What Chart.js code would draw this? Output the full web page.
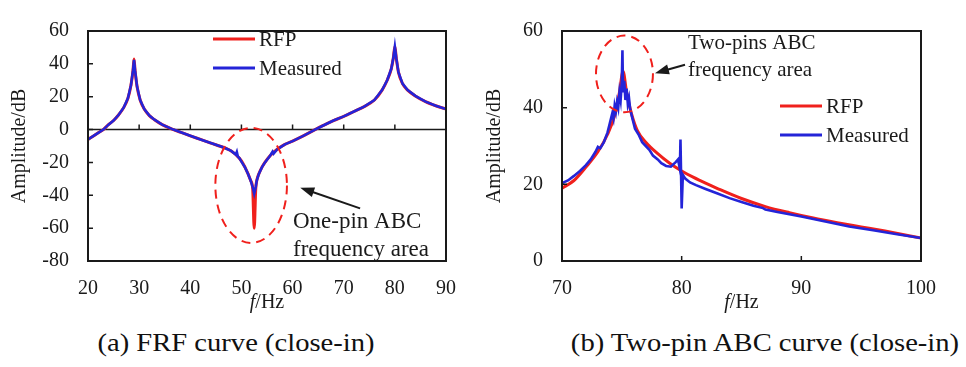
<!DOCTYPE html>
<html>
<head>
<meta charset="utf-8">
<script src="https://cdn.jsdelivr.net/npm/chart.js@4.4.0/dist/chart.umd.min.js"></script>
<style>
  body {
    margin: 0;
    background: #fff;
    width: 966px;
    height: 367px;
    overflow: hidden;
    position: relative;
    font-family: "Liberation Serif", "Times New Roman", serif;
  }
  canvas { position: absolute; top: 0; }
  #chartA { left: 0; }
  #chartB { left: 480px; }
  .cap {
    position: absolute;
    top: 328px;
    font-size: 26px;
    color: #111;
    white-space: nowrap;
    transform: translateX(-50%) scaleX(1.1);
  }
</style>
</head>
<body>
<canvas id="chartA" width="480" height="320"></canvas>
<canvas id="chartB" width="486" height="320"></canvas>
<div class="cap" style="left:236px">(a) FRF curve (close-in)</div>
<div class="cap" style="left:765px">(b) Two-pin ABC curve (close-in)</div>

<script>
// ---- (a) FRF curve, close-in ----
const freqA = [20, 21, 22, 23, 24, 25, 26, 27, 27.8, 28.4, 28.8, 29, 29.2, 29.6, 30.2, 31, 32, 33, 34.5, 36.7,
  38, 40, 42, 44, 46, 47, 48, 49, 50, 50.7, 51.3, 51.8, 52.2, 52.5, 52.8, 53.0, 53.4, 54, 54.6, 55.6,
  57, 58.5, 60, 62, 64.4, 66, 68, 70, 72, 74, 76, 77.5, 78.5, 79.3, 79.7, 80, 80.3, 80.7, 81.5, 82.5,
  84, 86, 88, 90];
const rfpA = [-6, -4, -2, 0, 3, 5.5, 9, 13.5, 19, 27, 36, 43, 36, 26, 18, 12.5, 8.5, 6, 3, 0,
  -1.5, -3.8, -6, -8.2, -10.3, -11.5, -13, -15.5, -19, -23, -27, -31, -36, -60, -36, -31, -27, -23, -20, -16,
  -12, -9, -7, -4, 0, 2.5, 5.5, 8, 11, 14, 18, 24, 30, 37, 43.5, 50.5, 43, 35, 28, 24,
  20.5, 17, 14.5, 12.5];

const measFreqA = [20, 21, 22, 23, 24, 25, 26, 27, 27.8, 28.4, 28.8, 29, 29.2, 29.6, 30.2, 31, 32, 33, 34.5, 36.7,
  38, 40, 42, 44, 46, 47, 48, 48.9, 49.1, 49.3, 49.6, 50, 50.7, 51.3, 51.8, 52.2, 52.5, 52.8, 53.0, 53.4, 54, 54.6,
  55.6, 55.9, 56.1, 56.3, 57, 58.5, 60, 62, 64.4, 66, 68, 70, 72, 74, 76, 77.5, 78.5, 79.3, 79.7, 80, 80.3, 80.7,
  81.5, 82.5, 84, 86, 88, 90];
const measA = [-6, -4, -2, 0, 3, 5.5, 9, 13.5, 19, 27, 36, 42.5, 36, 26, 18, 12.5, 8.5, 6, 3, 0,
  -1.5, -3.8, -6, -8.2, -10.3, -11.5, -13, -15.2, -13.6, -16.4, -17.4, -19.5, -23, -27, -31, -35, -39, -35, -31, -27, -23, -20,
  -16, -14.4, -13.4, -14.6, -12, -9, -7, -4, 0, 2.5, 5.5, 8, 11, 14, 18, 24, 30, 37, 43.5, 50.5, 43, 35,
  28, 24, 20.5, 17, 14.5, 12.5];

const xTicksA = [20, 30, 40, 50, 60, 70, 80, 90];
const yTicksA = [-80, -60, -40, -20, 0, 20, 40, 60];

// ---- (b) Two-pin ABC curve, close-in ----
const freqB = [70, 71, 72, 73, 73.8, 74.4, 74.8, 75.1, 75.4, 75.8, 76.3, 77, 78, 79, 80, 81, 82, 83, 85, 87,
  89, 91, 93, 95, 97, 100];
const rfpB = [19, 21, 24.5, 28.5, 33, 38, 44, 49.5, 44, 38.5, 34, 31, 28, 25.5, 23.5, 21.8, 20.3, 18.9, 16.3, 14.2,
  12.6, 11.2, 10, 8.9, 7.8, 6];

const measFreqB = [70, 70.5, 71, 71.5, 72, 72.4, 72.8, 73, 73.2, 73.5, 73.8, 74, 74.2, 74.3, 74.4, 74.5, 74.6, 74.7,
  74.8, 74.9, 75.0, 75.05, 75.1, 75.2, 75.3, 75.4, 75.5, 75.6, 75.7, 75.9, 76.1, 76.4, 76.7, 77.0, 77.3, 77.6,
  78, 78.3, 78.7, 79.1, 79.5, 79.7, 79.85, 79.9, 80.0, 80.1, 80.3, 80.7, 81.2, 82, 83, 84, 85, 86, 86.8, 87,
  88, 89, 90, 92, 94, 96, 98, 100];
const measB = [20.3, 21, 22.2, 23.5, 25, 26.5, 28.5, 29.8, 29.4, 31, 33.5, 36, 38.5, 37.2, 40.5, 39, 41.5, 40,
  44, 42, 47, 55, 44, 47, 42, 45, 41, 42.5, 39.5, 37, 34.5, 33, 31, 30, 29, 27.5,
  26.5, 25.5, 24.8, 24.6, 25.8, 26.5, 24, 31.7, 13.7, 22.5, 21.5, 20.5, 19.8, 18.8, 17.6, 16.4, 15.4, 14.4, 13.8, 13.4,
  12.8, 12.2, 11.6, 10.3, 9, 8, 7, 6];

const xTicksB = [70, 80, 90, 100];
const yTicksB = [0, 20, 40, 60];

const SERIF = '"Liberation Serif", "Times New Roman", serif';
const INK = '#1a1a1a';
const RED = '#f0201c';
const BLUE = '#2424d8';

function pts(xs, ys) {
  return xs.map((x, i) => ({ x: x, y: ys[i] }));
}

// box, inward ticks, zero line, legend, notes and x title
const framePlugin = {
  id: 'frame',
  beforeDatasetsDraw(chart, args, opts) {
    if (!opts.zeroLine) return;
    const { ctx, chartArea: a, scales } = chart;
    const y0 = scales.y.getPixelForValue(0);
    ctx.save();
    ctx.strokeStyle = INK;
    ctx.lineWidth = 1.5;
    ctx.beginPath();
    ctx.moveTo(a.left, y0);
    ctx.lineTo(a.right, y0);
    ctx.stroke();
    ctx.restore();
  },
  afterDatasetsDraw(chart, args, opts) {
    const { ctx, chartArea: a, scales } = chart;
    const xs = scales.x, ys = scales.y;
    ctx.save();
    ctx.strokeStyle = INK;
    ctx.lineWidth = 2;
    ctx.strokeRect(a.left, a.top, a.right - a.left, a.bottom - a.top);

    // inward ticks
    ctx.lineWidth = 1.5;
    ctx.beginPath();
    ys.ticks.forEach(t => {
      const p = ys.getPixelForValue(t.value);
      ctx.moveTo(a.left, p);
      ctx.lineTo(a.left + 5, p);
    });
    const tickBase = opts.zeroLine ? ys.getPixelForValue(0) : a.bottom;
    xs.ticks.forEach(t => {
      const p = xs.getPixelForValue(t.value);
      ctx.moveTo(p, tickBase);
      ctx.lineTo(p, tickBase - 5);
    });
    ctx.stroke();

    // legend inside the plot
    const lg = opts.legend;
    ctx.font = '21px ' + SERIF;
    ctx.textBaseline = 'middle';
    ctx.textAlign = 'left';
    chart.data.datasets.forEach((ds, i) => {
      const y = lg.y + i * lg.gap;
      ctx.strokeStyle = ds.borderColor;
      ctx.lineWidth = 3;
      ctx.beginPath();
      ctx.moveTo(lg.x, y);
      ctx.lineTo(lg.x + 42, y);
      ctx.stroke();
      ctx.fillStyle = INK;
      ctx.fillText(ds.label, lg.x + 46, y + 1);
    });

    // dashed ellipse, arrow and note
    const n = opts.note;
    const cx = xs.getPixelForValue(n.cx), cy = ys.getPixelForValue(n.cy);
    const rx = Math.abs(xs.getPixelForValue(n.cx + n.rx) - cx);
    const ry = Math.abs(ys.getPixelForValue(n.cy + n.ry) - cy);
    ctx.strokeStyle = RED;
    ctx.lineWidth = 2;
    ctx.setLineDash([9, 6]);
    ctx.beginPath();
    ctx.ellipse(cx, cy, rx, ry, 0, 0, Math.PI * 2);
    ctx.stroke();
    ctx.setLineDash([]);

    const x1 = xs.getPixelForValue(n.from[0]), y1 = ys.getPixelForValue(n.from[1]);
    const x2 = xs.getPixelForValue(n.to[0]), y2 = ys.getPixelForValue(n.to[1]);
    const ang = Math.atan2(y2 - y1, x2 - x1);
    ctx.strokeStyle = INK;
    ctx.fillStyle = INK;
    ctx.lineWidth = 2;
    ctx.beginPath();
    ctx.moveTo(x1, y1);
    ctx.lineTo(x2 - 10 * Math.cos(ang), y2 - 10 * Math.sin(ang));
    ctx.stroke();
    ctx.beginPath();
    ctx.moveTo(x2, y2);
    ctx.lineTo(x2 - 14 * Math.cos(ang) + 5 * Math.sin(ang), y2 - 14 * Math.sin(ang) - 5 * Math.cos(ang));
    ctx.lineTo(x2 - 14 * Math.cos(ang) - 5 * Math.sin(ang), y2 - 14 * Math.sin(ang) + 5 * Math.cos(ang));
    ctx.closePath();
    ctx.fill();

    ctx.font = n.size + 'px ' + SERIF;
    ctx.textAlign = 'left';
    ctx.textBaseline = 'middle';
    n.lines.forEach((s, i) => ctx.fillText(s, n.tx, n.ty + i * n.lh));

    // x title: italic f, upright /Hz
    const midX = (a.left + a.right) / 2;
    ctx.font = 'italic 20px ' + SERIF;
    const wf = ctx.measureText('f').width;
    ctx.font = '20px ' + SERIF;
    const wh = ctx.measureText('/Hz').width;
    const sx = midX - (wf + wh) / 2;
    ctx.font = 'italic 20px ' + SERIF;
    ctx.fillText('f', sx, opts.xTitleY);
    ctx.font = '20px ' + SERIF;
    ctx.fillText('/Hz', sx + wf, opts.xTitleY);
    ctx.restore();
  }
};

function makeChart(id, cfg) {
  const tickFont = { family: SERIF, size: 20 };
  return new Chart(document.getElementById(id), {
    type: 'line',
    data: {
      datasets: [
        { label: 'RFP', data: cfg.rfp, borderColor: RED, borderWidth: 3, pointRadius: 0,
          cubicInterpolationMode: 'monotone', order: 2 },
        { label: 'Measured', data: cfg.meas, borderColor: BLUE, borderWidth: 2.6, pointRadius: 0,
          tension: 0, order: 1 }
      ]
    },
    options: {
      responsive: false,
      animation: false,
      events: [],
      layout: { padding: cfg.padding },
      plugins: {
        legend: { display: false },
        tooltip: { enabled: false },
        frame: cfg.frame
      },
      scales: {
        x: {
          type: 'linear',
          min: cfg.xTicks[0],
          max: cfg.xTicks[cfg.xTicks.length - 1],
          afterBuildTicks(s) { s.ticks = cfg.xTicks.map(v => ({ value: v })); },
          afterFit(s) { s.height = cfg.xHeight; },
          grid: { display: false, drawTicks: false },
          border: { display: false },
          ticks: { font: tickFont, color: INK, padding: 16, maxRotation: 0, autoSkip: false }
        },
        y: {
          min: cfg.yTicks[0],
          max: cfg.yTicks[cfg.yTicks.length - 1],
          afterBuildTicks(s) { s.ticks = cfg.yTicks.map(v => ({ value: v })); },
          afterFit(s) { s.width = cfg.yWidth; },
          grid: { display: false, drawTicks: false },
          border: { display: false },
          ticks: { font: tickFont, color: INK, padding: 19 },
          title: { display: true, text: 'Amplitude/dB', color: INK, font: { family: SERIF, size: 20 },
            padding: { top: cfg.titlePad, bottom: 0 } }
        }
      }
    },
    plugins: [framePlugin]
  });
}

makeChart('chartA', {
  rfp: pts(freqA, rfpA),
  meas: pts(measFreqA, measA),
  xTicks: xTicksA,
  yTicks: yTicksA,
  padding: { left: 0, top: 16, right: 34, bottom: 0 },
  xHeight: 59,
  yWidth: 88,
  titlePad: 8,
  frame: {
    zeroLine: true,
    xTitleY: 303,
    legend: { x: 213, y: 39, gap: 29 },
    note: { cx: 51.9, cy: -34, rx: 7.0, ry: 35, from: [73.2, -48], to: [61.5, -35.4],
      lines: ['One-pin ABC', 'frequency area'], tx: 293, ty: 222, lh: 28, size: 23 }
  }
});

makeChart('chartB', {
  rfp: pts(freqB, rfpB),
  meas: pts(measFreqB, measB),
  xTicks: xTicksB,
  yTicks: yTicksB,
  padding: { left: 0, top: 16, right: 45, bottom: 0 },
  xHeight: 59,
  yWidth: 82,
  titlePad: 3,
  frame: {
    zeroLine: false,
    xTitleY: 303,
    legend: { x: 300, y: 106, gap: 29 },
    note: { cx: 75.22, cy: 48.8, rx: 2.38, ry: 10, from: [80.28, 51.2], to: [77.77, 49.0],
      lines: ['Two-pins ABC', 'frequency area'], tx: 208, ty: 43, lh: 27, size: 21 }
  }
});
</script>
</body>
</html>
